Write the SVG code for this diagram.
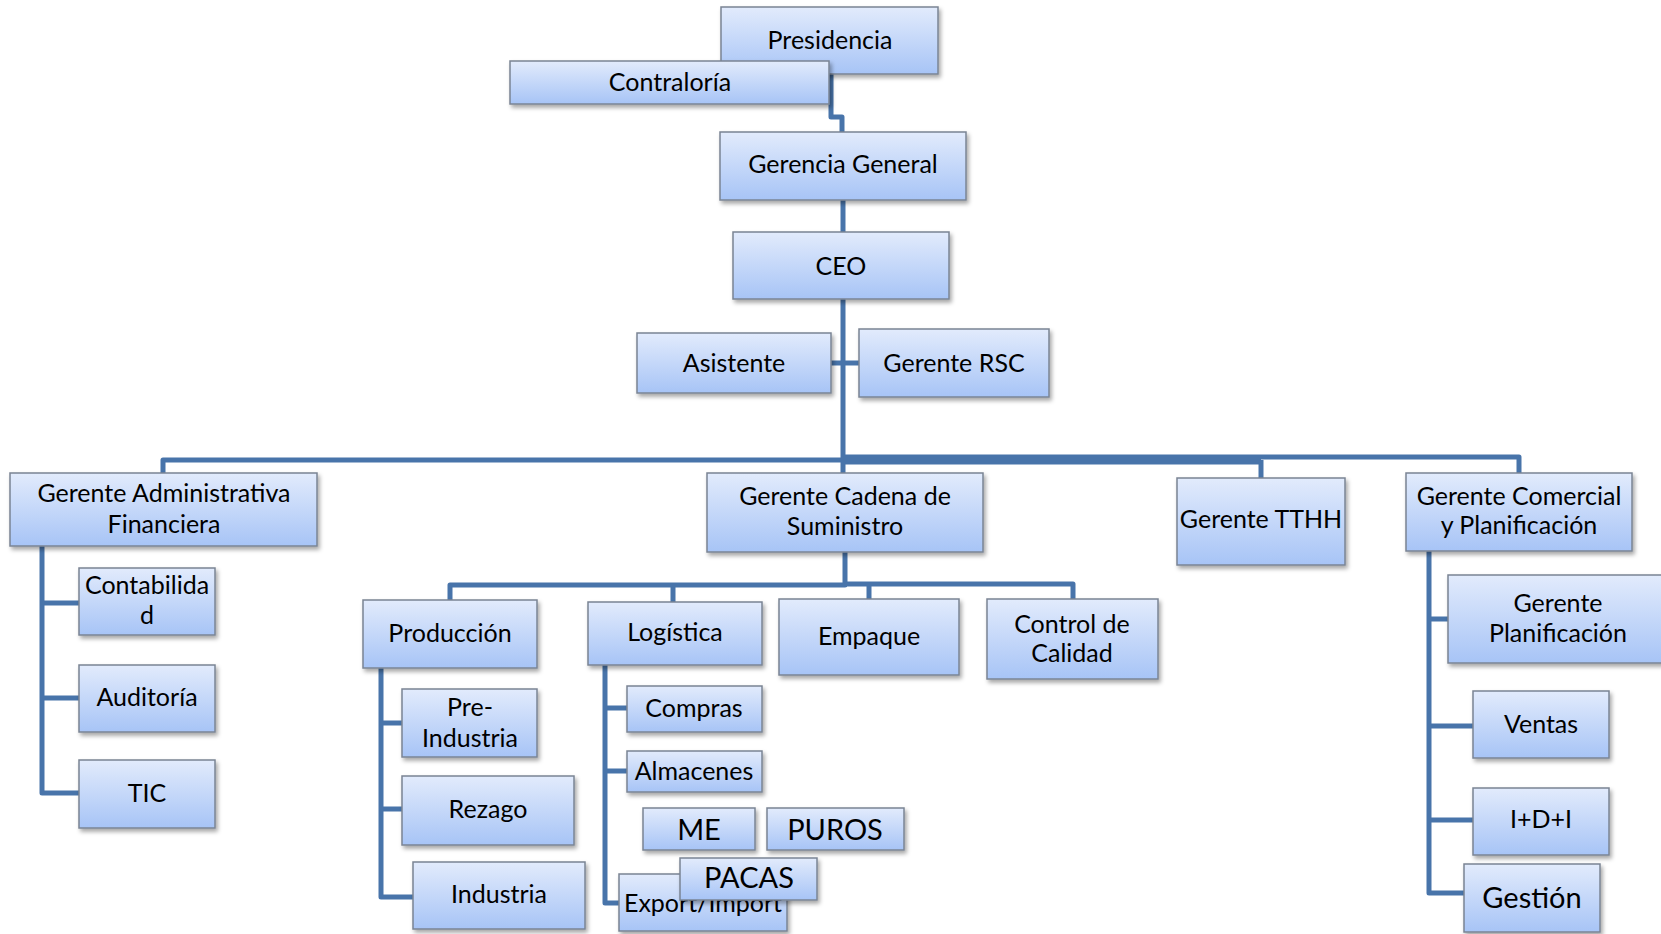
<svg xmlns="http://www.w3.org/2000/svg" width="1661" height="934" viewBox="0 0 1661 934">
<style>
.b{fill:url(#g);stroke:#7a8494;stroke-width:1.5;filter:url(#sh)}
.t{font-family:Lato,"Open Sans",sans-serif;font-size:25px;fill:#000;text-anchor:middle}
.L{font-size:29px}
.c{fill:none;stroke:#4874aa;stroke-width:5;stroke-linejoin:round}
</style>
<defs>
<linearGradient id="g" x1="0" y1="0" x2="0" y2="1">
<stop offset="0" stop-color="#e2ebfc"/>
<stop offset="1" stop-color="#a7c4f6"/>
</linearGradient>
<filter id="sh" x="-10%" y="-10%" width="125%" height="135%">
<feDropShadow dx="2" dy="3" stdDeviation="2" flood-color="#000" flood-opacity="0.35"/>
</filter>
</defs>
<rect width="1661" height="934" fill="#fff"/>
<g id="connectors">
<path class="c" d="M831,74 V117 H842 V132"/>
<path class="c" d="M843,200 V232"/>
<path class="c" d="M843,299 V474"/>
<path class="c" d="M831,363 H859"/>
<path class="c" d="M843,460 H163 V474"/>
<path class="c" style="stroke-width:9" d="M843,460 H1261"/>
<path class="c" d="M1261,460 V478"/>
<path class="c" d="M843,457 H1519 V474"/>
<path class="c" d="M42,546 V793 H79 M42,603 H79 M42,698 H79"/>
<path class="c" d="M845,552 V585 H450 V601 M845,584 H1073 V600 M673,585 V602 M869,584 V600"/>
<path class="c" d="M381,668 V897 H413 M381,723 H403 M381,809 H403"/>
<path class="c" d="M605,665 V903 H619 M605,708 H627 M605,771 H627"/>
<path class="c" d="M1429,551 V893 H1464 M1429,619 H1448 M1429,726 H1473 M1429,820 H1473"/>
</g>
<g id="presidencia"><rect class="b" x="721" y="7" width="217" height="67"/><text class="t" x="830" y="49">Presidencia</text></g>
<g id="contraloria"><rect class="b" x="510" y="61" width="319" height="43"/><text class="t" x="670" y="91">Contraloría</text></g>
<g id="gerencia-general"><rect class="b" x="720" y="132" width="246" height="68"/><text class="t" x="843" y="173">Gerencia General</text></g>
<g id="ceo"><rect class="b" x="733" y="232" width="216" height="67"/><text class="t" x="841" y="275">CEO</text></g>
<g id="asistente"><rect class="b" x="637" y="333" width="194" height="60"/><text class="t" x="734" y="372">Asistente</text></g>
<g id="gerente-rsc"><rect class="b" x="859" y="329" width="190" height="68"/><text class="t" x="954" y="372">Gerente RSC</text></g>
<g id="gerente-admin"><rect class="b" x="10" y="473" width="307" height="73"/><text class="t" x="164" y="502">Gerente Administrativa</text><text class="t" x="164" y="533">Financiera</text></g>
<g id="gerente-cadena"><rect class="b" x="707" y="473" width="276" height="79"/><text class="t" x="845" y="505">Gerente Cadena de</text><text class="t" x="845" y="535">Suministro</text></g>
<g id="gerente-tthh"><rect class="b" x="1177" y="478" width="168" height="87"/><text class="t" x="1261" y="528">Gerente TTHH</text></g>
<g id="gerente-comercial"><rect class="b" x="1406" y="473" width="226" height="78"/><text class="t" x="1519" y="505">Gerente Comercial</text><text class="t" x="1519" y="534">y Planificación</text></g>
<g id="contabilidad"><rect class="b" x="79" y="568" width="136" height="67"/><text class="t" x="147" y="594">Contabilida</text><text class="t" x="147" y="624">d</text></g>
<g id="auditoria"><rect class="b" x="79" y="665" width="136" height="67"/><text class="t" x="147" y="706">Auditoría</text></g>
<g id="tic"><rect class="b" x="79" y="760" width="136" height="68"/><text class="t" x="147" y="802">TIC</text></g>
<g id="produccion"><rect class="b" x="363" y="600" width="174" height="68"/><text class="t" x="450" y="642">Producción</text></g>
<g id="logistica"><rect class="b" x="588" y="602" width="174" height="63"/><text class="t" x="675" y="641">Logística</text></g>
<g id="empaque"><rect class="b" x="779" y="599" width="180" height="76"/><text class="t" x="869" y="645">Empaque</text></g>
<g id="control-calidad"><rect class="b" x="987" y="599" width="171" height="80"/><text class="t" x="1072" y="633">Control de</text><text class="t" x="1072" y="662">Calidad</text></g>
<g id="pre-industria"><rect class="b" x="402" y="689" width="135" height="68"/><text class="t" x="470" y="716">Pre-</text><text class="t" x="470" y="747">Industria</text></g>
<g id="rezago"><rect class="b" x="402" y="776" width="172" height="69"/><text class="t" x="488" y="818">Rezago</text></g>
<g id="industria"><rect class="b" x="413" y="862" width="172" height="67"/><text class="t" x="499" y="903">Industria</text></g>
<g id="compras"><rect class="b" x="627" y="686" width="135" height="46"/><text class="t" x="694" y="717">Compras</text></g>
<g id="almacenes"><rect class="b" x="627" y="751" width="135" height="41"/><text class="t" x="694" y="780">Almacenes</text></g>
<g id="me"><rect class="b" x="643" y="808" width="112" height="42"/><text class="t L" x="699" y="840">ME</text></g>
<g id="puros"><rect class="b" x="767" y="808" width="137" height="42"/><text class="t L" x="835" y="840">PUROS</text></g>
<g id="export-import"><rect class="b" x="619" y="874" width="168" height="57"/><text class="t" x="703" y="912">Export/Import</text></g>
<g id="pacas"><rect class="b" x="680" y="858" width="137" height="42"/><text class="t L" x="749" y="888">PACAS</text></g>
<g id="gerente-planificacion"><rect class="b" x="1448" y="575" width="240" height="88"/><text class="t" x="1558" y="612">Gerente</text><text class="t" x="1558" y="642">Planificación</text></g>
<g id="ventas"><rect class="b" x="1473" y="691" width="136" height="67"/><text class="t" x="1541" y="733">Ventas</text></g>
<g id="idi"><rect class="b" x="1473" y="788" width="136" height="67"/><text class="t" x="1541" y="828">I+D+I</text></g>
<g id="gestion"><rect class="b" x="1464" y="864" width="136" height="68"/><text class="t L" x="1532" y="908">Gestión</text></g>
</svg>
